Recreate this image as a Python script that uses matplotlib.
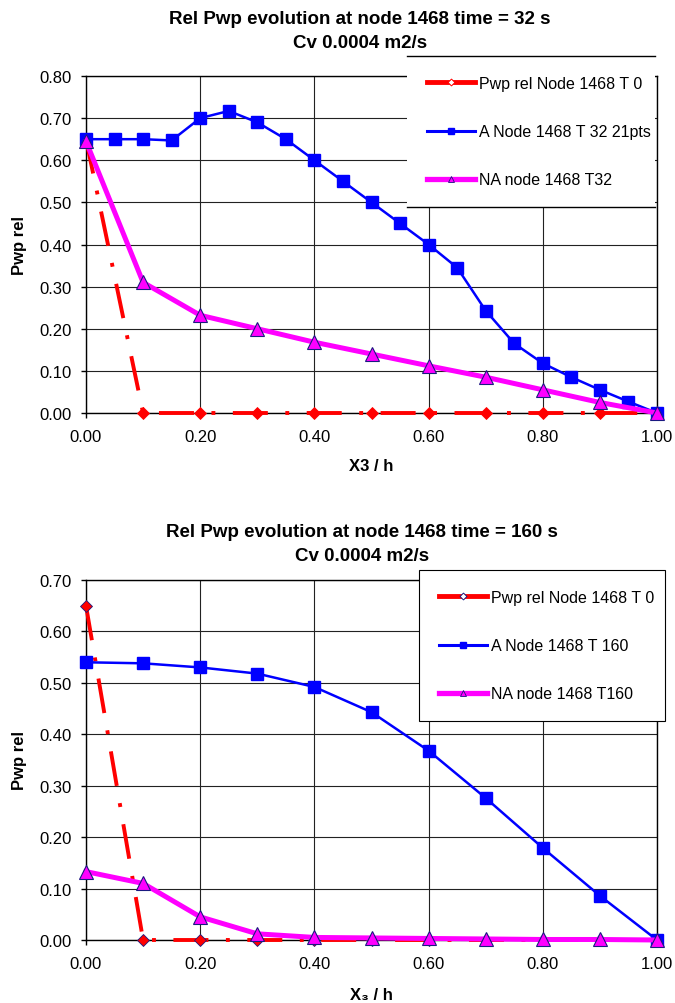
import numpy as np
import matplotlib
matplotlib.use("Agg")
import matplotlib.pyplot as plt
from matplotlib.lines import Line2D
from matplotlib.ticker import MultipleLocator, FormatStrFormatter

plt.rcParams['font.family'] = ['Liberation Sans', 'DejaVu Sans']

# ---- data: t = 32 s ----
x_t0 = [0.0, 0.1, 0.2, 0.3, 0.4, 0.5, 0.6, 0.7, 0.8, 0.9, 1.0]
y_t0 = [0.65, 0.0, 0.0, 0.0, 0.0, 0.0, 0.0, 0.0, 0.0, 0.0, 0.0]

x_a32 = [0.0, 0.05, 0.10, 0.15, 0.20, 0.25, 0.30, 0.35, 0.40, 0.45, 0.50,
         0.55, 0.60, 0.65, 0.70, 0.75, 0.80, 0.85, 0.90, 0.95, 1.0]
y_a32 = [0.65, 0.65, 0.65, 0.647, 0.70, 0.717, 0.69, 0.65, 0.60, 0.55, 0.50,
         0.45, 0.40, 0.345, 0.243, 0.165, 0.118, 0.085, 0.055, 0.027, 0.0]

x_na32 = [0.0, 0.1, 0.2, 0.3, 0.4, 0.5, 0.6, 0.7, 0.8, 0.9, 1.0]
y_na32 = [0.645, 0.31, 0.232, 0.20, 0.168, 0.14, 0.112, 0.085, 0.055, 0.025, 0.0]

# ---- data: t = 160 s ----
x_a160 = [0.0, 0.1, 0.2, 0.3, 0.4, 0.5, 0.6, 0.7, 0.8, 0.9, 1.0]
y_a160 = [0.54, 0.538, 0.530, 0.518, 0.492, 0.443, 0.368, 0.276, 0.179, 0.086, 0.0]

x_na160 = [0.0, 0.1, 0.2, 0.3, 0.4, 0.5, 0.6, 0.7, 0.8, 0.9, 1.0]
y_na160 = [0.133, 0.11, 0.045, 0.012, 0.005, 0.004, 0.003, 0.002, 0.001, 0.001, 0.0]

labels_top = ['Pwp rel Node 1468 T 0', 'A Node 1468 T 32 21pts', 'NA node 1468 T32']
labels_bot = ['Pwp rel Node 1468 T 0', 'A Node 1468 T 160', 'NA node 1468 T160']

RED = '#ff0000'
BLUE = '#0000ff'
MAG = '#ff00ff'
NAVY = '#1a1a80'

W, H = 675, 1004
fig = plt.figure(figsize=(W / 100, H / 100), dpi=100)


def px_axes(left, right, top, bottom):
    return fig.add_axes([left / W, 1 - bottom / H, (right - left) / W, (bottom - top) / H])


def style_axes(ax, ymax, xlabel):
    ax.set_xlim(0, 1)
    ax.set_ylim(0, ymax)
    ax.xaxis.set_major_locator(MultipleLocator(0.2))
    ax.yaxis.set_major_locator(MultipleLocator(0.1))
    ax.xaxis.set_major_formatter(FormatStrFormatter('%.2f'))
    ax.yaxis.set_major_formatter(FormatStrFormatter('%.2f'))
    ax.grid(True, color='#222222', linewidth=0.8)
    ax.set_axisbelow(True)
    for s in ax.spines.values():
        s.set_color('black')
        s.set_linewidth(1.0)
    ax.tick_params(axis='both', labelsize=12, direction='out', length=3.5, width=1)
    ax.tick_params(axis='y', pad=7)
    ax.tick_params(axis='x', pad=8)
    ax.set_xlabel(xlabel, fontsize=12, fontweight='bold')
    ax.set_ylabel('Pwp rel', fontsize=12, fontweight='bold')


def draw_series(ax, xa, ya, xn, yn, red_edge):
    ax.plot(x_t0, y_t0, color=RED, lw=2.8, linestyle=(0, (9, 4.5, 1, 4.5)),
            marker='D', markersize=6.5, markerfacecolor=RED,
            markeredgecolor=red_edge, markeredgewidth=0.6, clip_on=False, zorder=3)
    ax.plot(xa, ya, color=BLUE, lw=1.8, marker='s', markersize=8,
            markerfacecolor=BLUE, markeredgecolor=BLUE, clip_on=False, zorder=4)
    ax.plot(xn, yn, color=MAG, lw=3.6, marker='^', markersize=10,
            markerfacecolor=MAG, markeredgecolor=NAVY, markeredgewidth=0.8,
            clip_on=False, zorder=5)


def handles(red_edge):
    return [
        Line2D([], [], color=RED, lw=3.5, marker='D', markersize=3.5,
               markerfacecolor='white', markeredgecolor=red_edge, markeredgewidth=0.7),
        Line2D([], [], color=BLUE, lw=2.2, marker='s', markersize=4.5,
               markerfacecolor=BLUE, markeredgecolor=BLUE),
        Line2D([], [], color=MAG, lw=3.8, marker='^', markersize=5,
               markerfacecolor=MAG, markeredgecolor=NAVY, markeredgewidth=0.6),
    ]


legend_kw = dict(loc='upper left', mode='expand', fontsize=11.5, handlelength=3.0,
                 handletextpad=0.25, labelspacing=2.08, borderpad=1.25,
                 borderaxespad=0.0, fancybox=False, framealpha=1, facecolor='white')

# ---------------- top chart ----------------
ax1 = px_axes(86, 657, 77, 414)
draw_series(ax1, x_a32, y_a32, x_na32, y_na32, RED)
style_axes(ax1, 0.8, 'X3 / h')
ax1.xaxis.set_label_coords(0.5, -0.135)
ax1.yaxis.set_label_coords(-0.104, 0.5)

fig.text(360 / W, 1 - 20 / H, 'Rel Pwp evolution at node 1468 time = 32 s',
         ha='center', va='center', fontsize=13.5, fontweight='bold')
fig.text(360 / W, 1 - 43 / H, 'Cv 0.0004 m2/s',
         ha='center', va='center', fontsize=13.5, fontweight='bold')

leg1 = fig.legend(handles(RED), labels_top,
                  bbox_to_anchor=(407 / W, 1 - 57 / H, 248 / W, 0.0),
                  edgecolor='none', **legend_kw)

# ---------------- bottom chart ----------------
ax2 = px_axes(86, 657, 581, 941)
draw_series(ax2, x_a160, y_a160, x_na160, y_na160, NAVY)
style_axes(ax2, 0.7, 'X\u2083 / h')
ax2.xaxis.set_label_coords(0.5, -0.13)
ax2.yaxis.set_label_coords(-0.104, 0.5)

fig.text(362 / W, 1 - 533 / H, 'Rel Pwp evolution at node 1468 time = 160 s',
         ha='center', va='center', fontsize=13.5, fontweight='bold')
fig.text(362 / W, 1 - 557 / H, 'Cv 0.0004 m2/s',
         ha='center', va='center', fontsize=13.5, fontweight='bold')

leg2 = fig.legend(handles(NAVY), labels_bot,
                  bbox_to_anchor=(419 / W, 1 - 571 / H, 246 / W, 0.0),
                  edgecolor='black', **legend_kw)
leg2.get_frame().set_linewidth(0.8)

# top legend only shows its upper and lower border
fig.canvas.draw()
bb = leg1.get_window_extent().transformed(fig.transFigure.inverted())
for yy in (bb.y0, bb.y1):
    fig.add_artist(Line2D([bb.x0, bb.x1], [yy, yy], color='black', lw=1.0,
                          transform=fig.transFigure, zorder=10))

fig.savefig('out.png', dpi=100)
